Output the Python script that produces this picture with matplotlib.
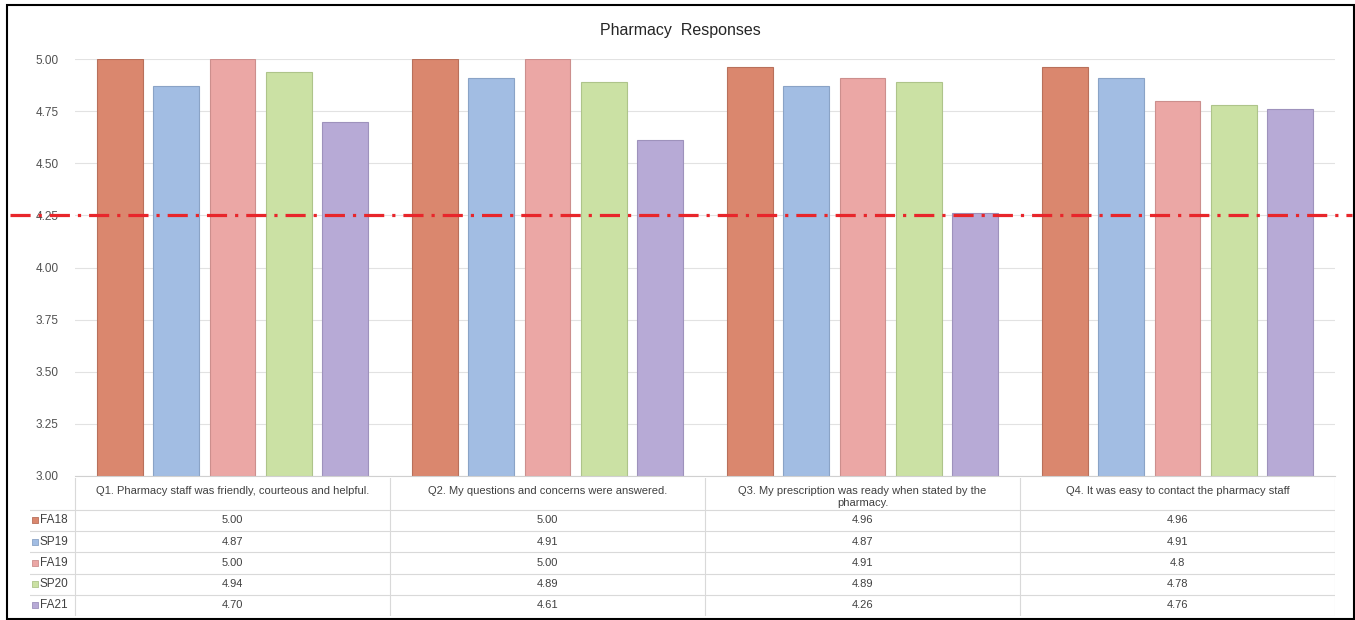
import matplotlib.pyplot as plt
import numpy as np
from matplotlib.patches import Rectangle

# data
questions = ['Q1. Pharmacy staff was friendly, courteous and helpful.',
             'Q2. My questions and concerns were answered.',
             'Q3. My prescription was ready when stated by the\npharmacy.',
             'Q4. It was easy to contact the pharmacy staff']
terms = ['FA18', 'SP19', 'FA19', 'SP20', 'FA21']
fa18 = [5.00, 5.00, 4.96, 4.96]
sp19 = [4.87, 4.91, 4.87, 4.91]
fa19 = [5.00, 5.00, 4.91, 4.8]
sp20 = [4.94, 4.89, 4.89, 4.78]
fa21 = [4.70, 4.61, 4.26, 4.76]
cellText = [['5.00', '5.00', '4.96', '4.96'],
            ['4.87', '4.91', '4.87', '4.91'],
            ['5.00', '5.00', '4.91', '4.8'],
            ['4.94', '4.89', '4.89', '4.78'],
            ['4.70', '4.61', '4.26', '4.76']]
target = 4.25
yticks = [3.00, 3.25, 3.50, 3.75, 4.00, 4.25, 4.50, 4.75, 5.00]

series = [fa18, sp19, fa19, sp20, fa21]
colors = ['#DA876E', '#A2BDE3', '#EBA7A5', '#CBE1A4', '#B7AAD6']
edges = ['#B8705B', '#8AA3C6', '#CC8F8D', '#AEC48A', '#9E92BC']

plt.rcParams['font.family'] = ['Liberation Sans', 'DejaVu Sans']

W, H = 1355, 620
fig = plt.figure(figsize=(W/100, H/100), dpi=100)

def px(x0, y0, x1, y1):
    return [x0/W, 1-y1/H, (x1-x0)/W, (y1-y0)/H]

ax = fig.add_axes(px(75, 59, 1335, 476))
x = np.arange(len(questions))
step = 0.179
bw = 0.146
for i, vals in enumerate(series):
    ax.bar(x + (i-2)*step, np.array(vals)-3, bw, bottom=3, color=colors[i],
           edgecolor=edges[i], linewidth=0.8, zorder=2)
ax.set_xlim(-0.5, 3.5)
ax.set_ylim(3, 5)
ax.set_yticks(yticks)
ax.set_yticklabels(['%.2f' % t for t in yticks], fontsize=8.5, color='#505050')
ax.tick_params(axis='y', length=0, pad=12)
ax.set_xticks([])
ax.grid(axis='y', color='#E2E2E2', linewidth=0.8, zorder=0)
for s in ['top', 'right', 'left']:
    ax.spines[s].set_visible(False)
ax.spines['bottom'].set_color('#D0D0D0')
ax.axhline(target, xmin=(10-75)/1260, xmax=(1352-75)/1260, color='#E8262B',
           linewidth=2.3, dashes=(6.3, 2.5, 1.0, 2.5), clip_on=False, zorder=3)

fig.text(680/W, 1-31/H, 'Pharmacy  Responses', ha='center', va='center',
         fontsize=11.5, color='#262626')

# data table under the chart
left = -0.5 - 45/315
tab = fig.add_axes(px(30, 478, 1335, 616))
tab.set_xlim(left, 3.5)
tab.set_ylim(6.5, 0)
tab.axis('off')
lc = '#D9D9D9'
for yb in [1.5, 2.5, 3.5, 4.5, 5.5, 6.5]:
    tab.plot([left, 3.5], [yb, yb], color=lc, linewidth=0.8)
for xb in [-0.5, 0.5, 1.5, 2.5, 3.5]:
    tab.plot([xb, xb], [0, 6.5], color=lc, linewidth=0.8)
for j, q in enumerate(questions):
    tab.text(j, 0.36, q, ha='center', va='top', fontsize=8,
             color='#404040', linespacing=1.25)
for i, row in enumerate(cellText):
    yc = 2.0 + i
    for j, v in enumerate(row):
        tab.text(j, yc, v, ha='center', va='center', fontsize=8, color='#404040')
    tab.scatter([-0.5-39.5/315], [yc], marker='s', s=18, color=colors[i],
                edgecolor=edges[i], linewidth=0.6)
    tab.text(-0.5-35/315, yc, terms[i], ha='left', va='center', fontsize=8.5,
             color='#404040')

# outer frame
fig.patches.append(Rectangle((7/W, 1/H), 1-8/W, 1-6/H, transform=fig.transFigure,
                             fill=False, edgecolor='black', linewidth=1.5))

fig.savefig('out.png', dpi=100)
